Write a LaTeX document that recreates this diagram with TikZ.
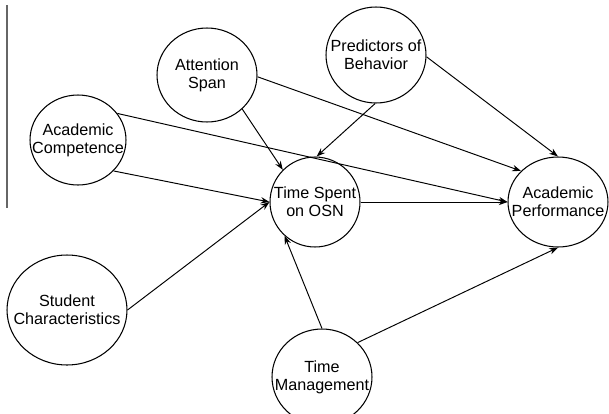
\documentclass[tikz,border=0pt]{standalone}
\usepackage{fontspec}
\setmainfont{Liberation Sans}
\usetikzlibrary{shapes.geometric,arrows.meta}

\tikzset{
  blob/.style n args={3}{ellipse, draw, line width=0.6pt, minimum width=#1,
    minimum height=#2, inner sep=0pt, label={[txt]center:#3}},
  txt/.style={font=\fontsize{9.2}{10.4}\selectfont, align=center, inner sep=0pt},
  link/.style={-{Stealth[length=5pt, width=3.6pt]}, line width=0.55pt},
}

\begin{document}
\begin{tikzpicture}[x=0.02cm, y=-0.02cm]
  \useasboundingbox (0,0) rectangle (609,413);
  \draw[line width=1.1pt, black!60] (7,5) -- (7,208);

  \node[blob={2cm}{1.88cm}{Attention\\Span}] (as) at (207,75) {};
  \node[blob={2cm}{1.92cm}{Predictors of\\Behavior}] (pb) at (376,55) {};
  \node[blob={1.92cm}{1.8cm}{Academic\\Competence}] (ac) at (78,140) {};
  \node[blob={1.8cm}{1.8cm}{Time Spent\\on OSN}] (ts) at (315,202) {};
  \node[blob={2cm}{1.8cm}{Academic\\Performance}] (ap) at (558,202) {};
  \node[blob={2.4cm}{2.2cm}{Student\\Characteristics}] (sc) at (67,310) {};
  \node[blob={2cm}{1.92cm}{Time\\Management}] (tm) at (322,377) {};

  \draw[link] (as.-44) -- (ts.135);
  \draw[link] (as.-2) -- (ap.140);
  \draw[link] (ac.34) -- (ap.180);
  \draw[link] (ac.-41) -- (ts.180);
  \draw[link] (pb.-91) -- (ts.88);
  \draw[link] (pb.-2) -- (ap.90);
  \draw[link] (ts.0) -- (ap.180);
  \draw[link] (sc.0) -- (ts.180);
  \draw[link] (tm.90) -- (ts.228);
  \draw[link] (tm.44) -- (ap.-90);
\end{tikzpicture}
\end{document}
